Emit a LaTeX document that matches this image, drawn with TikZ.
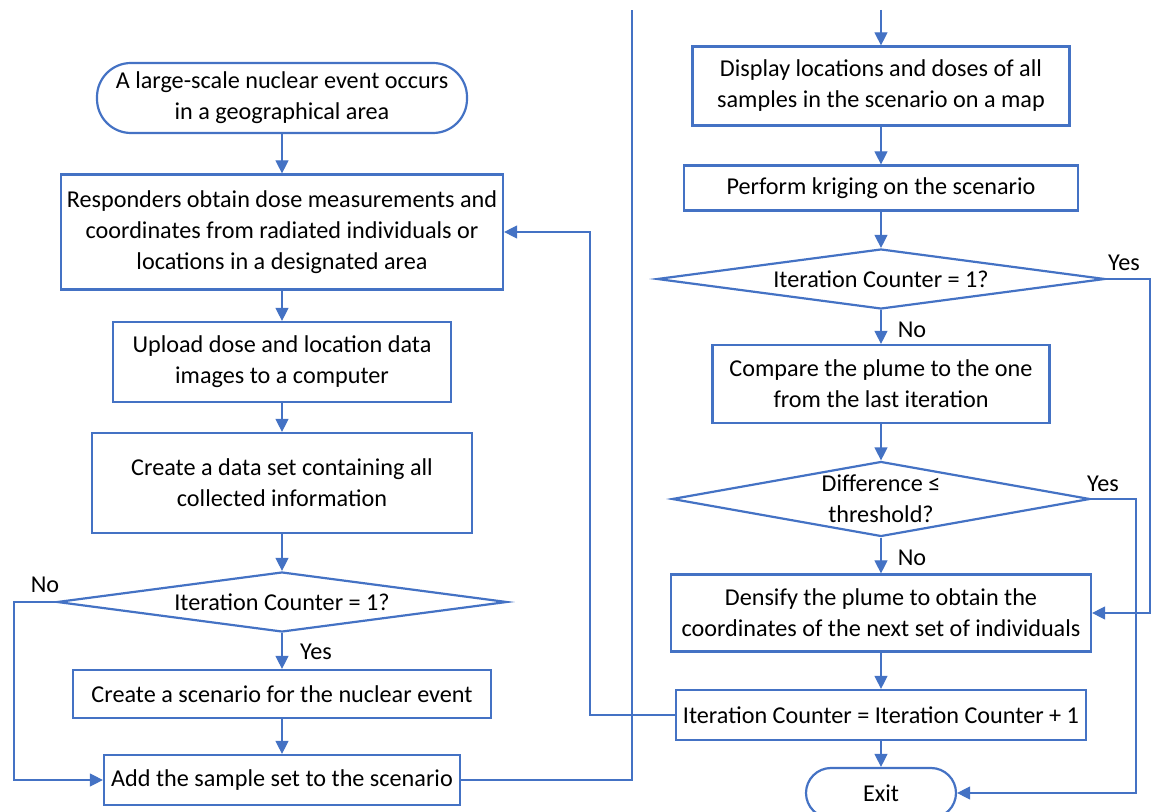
\documentclass[tikz,border=0pt]{standalone}
\usepackage{fontspec}
\setmainfont{Carlito}
\usetikzlibrary{arrows.meta,shapes.geometric}
\definecolor{obl}{RGB}{68,114,196}
\tikzset{
  base/.style={draw=obl, line width=1.1pt, align=center, inner sep=0pt, font=\fontsize{12.1}{15.5}\selectfont, text=black},
  box/.style={base, rectangle},
  term/.style={base, rectangle, rounded corners=12.5pt},
  dec/.style={base, diamond},
  conn/.style={draw=obl, line width=0.6pt},
  arr/.style={conn, -{Triangle[length=6.5pt,width=6.5pt]}},
  lbl/.style={font=\fontsize{12.1}{15.5}\selectfont, text=black, inner sep=0pt}
}
\begin{document}
\begin{tikzpicture}[x=0.5pt,y=-0.5pt]
\useasboundingbox (0,0) rectangle (1152,812);
% left column
\node[term, rounded corners=17pt, minimum width=185pt, minimum height=35pt] (start) at (282,98) {A large-scale nuclear event occurs\\in a geographical area};
\node[box, minimum width=221pt, minimum height=57.5pt] (b1) at (282,232) {Responders obtain dose measurements and\\coordinates from radiated individuals or\\locations in a designated area};
\node[box, minimum width=169pt, minimum height=40pt] (b2) at (282,362) {Upload dose and location data\\images to a computer};
\node[box, minimum width=190pt, minimum height=50pt] (b3) at (282,483) {Create a data set containing all\\collected information};
\node[dec, aspect=7.5, minimum width=225pt, minimum height=30pt] (d1) at (282,602) {Iteration Counter = 1?};
\node[box, minimum width=209pt, minimum height=24pt] (b4) at (282,694) {Create a scenario for the nuclear event};
\node[box, minimum width=178pt, minimum height=25pt] (b5) at (282,780) {Add the sample set to the scenario};
% right column
\node[box, minimum width=188.5pt, minimum height=39.5pt] (b6) at (881,86) {Display locations and doses of all\\samples in the scenario on a map};
\node[box, minimum width=197pt, minimum height=22.5pt] (b7) at (881,188) {Perform kriging on the scenario};
\node[dec, aspect=7.5, minimum width=224pt, minimum height=30pt] (d2) at (881,279) {Iteration Counter = 1?};
\node[box, minimum width=168.5pt, minimum height=39pt] (b8) at (881,384) {Compare the plume to the one\\from the last iteration};
\node[dec, aspect=5.6, minimum width=209pt, minimum height=37.5pt] (d3) at (881,499) {Difference ≤\\threshold?};
\node[box, minimum width=210pt, minimum height=38.5pt] (b9) at (881,613) {Densify the plume to obtain the\\coordinates of the next set of individuals};
\node[box, minimum width=205pt, minimum height=25pt] (b10) at (881,715) {Iteration Counter = Iteration Counter + 1};
\node[term, minimum width=75pt, minimum height=25pt] (exit) at (881,793) {Exit};
% coordinates
\coordinate (top1) at (632,10);
\coordinate (top2) at (881,10);
% left connectors
\draw[arr] (start) -- (b1);
\draw[arr] (b1) -- (b2);
\draw[arr] (b2) -- (b3);
\draw[arr] (b3) -- (d1);
\draw[arr] (d1) -- (b4);
\draw[arr] (b4) -- (b5);
\draw[arr] (d1.west) -- (14,602) -- (14,780) -- (b5.west);
\draw[conn] (b5.east) -- (top1 |- b5.east) -- (top1);
\node[lbl] (no1) at (45,585) {No};
\node[lbl] (yes1) at (316,652) {Yes};
% right connectors
\draw[arr] (top2) -- (b6);
\draw[arr] (b6) -- (b7);
\draw[arr] (b7) -- (d2);
\draw[arr] (d2) -- (b8);
\draw[arr] (b8) -- (d3);
\draw[arr] (d3) -- (b9);
\draw[arr] (b9) -- (b10);
\draw[arr] (b10) -- (exit);
\draw[arr] (d2.east) -- (1150,279) -- (1150,613) -- (b9.east);
\draw[arr] (d3.east) -- (1136,499) -- (1136,793) -- (exit.east);
\draw[arr] (b10.west) -- (590,715) -- (590,232) -- (b1.east);
\node[lbl] (no2) at (912,330) {No};
\node[lbl] (no3) at (912,558) {No};
\node[lbl] (yes2) at (1124,263) {Yes};
\node[lbl] (yes3) at (1103,484) {Yes};
\end{tikzpicture}
\end{document}
